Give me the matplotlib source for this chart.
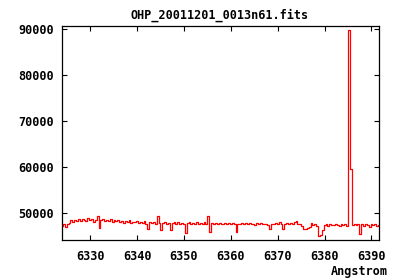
import numpy as np
import matplotlib
matplotlib.use("Agg")
import matplotlib.pyplot as plt

title = "OHP_20011201_0013n61.fits"
wave_start = 6324.0
wave_step = 0.4

# flux, one value per 0.4 Angstrom
flux = [
    47100, 47500, 46900, 47600, 47800, 48300, 48000, 48400, 48200, 48500,
    48100, 48600, 48300, 48200, 48700, 48300, 48500, 48000, 48400, 49200,
    46600, 48300, 48500, 48100, 48400, 48200, 48600, 47900, 48300, 48100,
    48400, 48000, 48200, 47800, 48100, 47900, 48300, 47700, 48000, 47900,
    48200, 47700, 48000, 47800, 48100, 47600, 46400, 47900, 47700, 48000,
    47600, 49200, 47800, 46200, 47700, 47900, 47500, 47800, 46200, 47700,
    47900, 47600, 48000, 47500, 47800, 47600, 45600, 47700, 47900, 47500,
    47800, 47600, 47900, 47400, 47700, 47600, 47900, 47500, 49200, 45700,
    47800, 47500, 47700, 47400, 47800, 47600, 47500, 47800, 47400, 47700,
    47500, 47800, 47400, 45800, 47600, 47500, 47800, 47400, 47700, 47500,
    47800, 47400, 47600, 47300, 47700, 47500, 47800, 47400, 47600, 47500,
    47300, 46300, 47600, 47400, 47700, 47500, 48000, 47600, 46300, 47500,
    47700, 47400, 47800, 47500, 47900, 48200, 47600, 47400, 47000, 46500,
    46300, 46600, 46900, 47700, 47300, 47400, 47000, 44900, 45100, 46200,
    47200, 47400, 47100, 47500, 47300, 47200, 47600, 47300, 47100, 47500,
    47200, 47400, 47100, 89800, 59400, 47300, 47600, 47200, 47500, 45300,
    47400, 47100, 47500, 47300, 46800, 47400, 47200, 47500, 47100, 47300,
]
xticks = [6330, 6340, 6350, 6360, 6370, 6380, 6390]
yticks = [50000, 60000, 70000, 80000, 90000]

wave = wave_start + wave_step * np.arange(len(flux))

plt.rcParams['font.family'] = 'DejaVu Sans Mono'
plt.rcParams['font.weight'] = 'bold'

fig = plt.figure(figsize=(4, 2.8), dpi=100)
ax = fig.add_axes([62 / 400, 40 / 280, 317 / 400, 214.3 / 280])
ax.plot(wave, flux, color='#ff0000', lw=0.9, drawstyle='steps-mid')

ax.set_xlim(6324.0, 6391.6)
ax.set_ylim(44000, 90800)
ax.set_xticks(xticks)
ax.set_yticks(yticks)
ax.tick_params(direction='in', length=3.5, width=0.8, top=True, right=True,
               labelsize=8.5, colors='black')
ax.tick_params(axis='x', pad=7)
ax.tick_params(axis='y', pad=6)
for s in ax.spines.values():
    s.set_linewidth(0.9)

fig.text(219.5 / 400, 1 - 15 / 280, title, ha='center', va='center',
         fontsize=8.5, fontweight='bold')
fig.text(388 / 400, 1 - 271 / 280, "Angstrom", ha='right', va='center',
         fontsize=8.5, fontweight='bold')

fig.savefig("out.png", dpi=100)
